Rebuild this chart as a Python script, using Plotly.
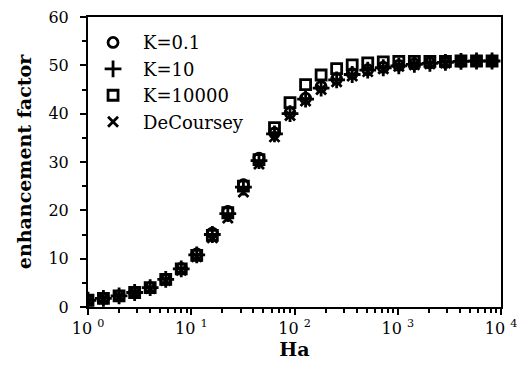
import plotly.graph_objects as go

ha = [1, 1.41, 2, 2.83, 4, 5.66, 8, 11.3, 16, 22.6, 32, 45.3, 64, 90.5, 128, 181,
      256, 362, 512, 724, 1024, 1448, 2048, 2896, 4096, 5793, 8192]
k01 = [1.4, 1.8, 2.3, 3.0, 4.0, 5.7, 8.0, 11.0, 15.3, 19.8, 25.3, 30.8, 36.0, 40.2,
       43.2, 45.6, 47.2, 48.3, 49.1, 49.6, 50.0, 50.3, 50.5, 50.6, 50.8, 50.9, 50.9]
k10 = [1.4, 1.8, 2.3, 3.0, 4.0, 5.7, 7.9, 10.8, 15.0, 19.3, 24.8, 30.3, 35.8, 40.0,
       43.0, 45.3, 47.0, 48.1, 49.0, 49.5, 49.9, 50.2, 50.4, 50.6, 50.8, 50.9, 50.9]
k10000 = [1.4, 1.8, 2.3, 3.0, 4.0, 5.7, 7.9, 10.7, 14.8, 19.5, 25.0, 30.5, 37.1, 42.3,
          46.0, 48.0, 49.3, 50.1, 50.5, 50.7, 50.8, 50.8, 50.8, 50.8, 50.9, 50.9, 50.9]
decoursey = [1.3, 1.7, 2.2, 2.9, 3.8, 5.5, 7.6, 10.4, 14.3, 18.4, 23.8, 29.6, 35.2, 39.6,
             42.6, 45.0, 46.6, 47.8, 48.7, 49.3, 49.8, 50.1, 50.3, 50.5, 50.8, 50.9, 50.9]

x_tickvals = [1, 10, 100, 1000, 10000]
x_ticktext = ["10 <sup>0</sup>", "10 <sup>1</sup>", "10 <sup>2</sup>", "10 <sup>3</sup>", "10 <sup>4</sup>"]

font_family = "DejaVu Serif, Liberation Serif, serif"

fig = go.Figure()
series = [
    ("K=0.1", k01, "circle-open", 10),
    ("K=10", k10, "cross-thin-open", 12),
    ("K=10000", k10000, "square-open", 10),
    ("DeCoursey", decoursey, "x-thin-open", 10),
]
for name, ys, sym, sz in series:
    fig.add_trace(go.Scatter(
        x=ha, y=ys, mode="markers", name=name,
        marker=dict(symbol=sym, size=sz, color="black",
                    line=dict(color="black", width=2.8)),
    ))

minor_vals = [m * 10 ** d for d in range(4) for m in range(2, 10)]

fig.update_layout(
    width=530, height=365,
    margin=dict(l=88, r=29, t=17, b=58, autoexpand=False),
    paper_bgcolor="white", plot_bgcolor="white",
    font=dict(family=font_family, size=17, color="black"),
    showlegend=True,
    legend=dict(x=-0.012, y=0.975, xanchor="left", yanchor="top",
                bgcolor="rgba(0,0,0,0)", font=dict(size=18, family=font_family),
                itemsizing="trace", itemwidth=50),
)
fig.update_xaxes(
    type="log", range=[0, 4], automargin=False,
    tickvals=x_tickvals, ticktext=x_ticktext,
    ticks="outside", ticklen=6, tickwidth=2, tickcolor="black",
    minor=dict(tickvals=minor_vals, ticks="outside", ticklen=4, tickwidth=1.5,
               tickcolor="black", showgrid=False),
    showline=True, linecolor="black", linewidth=2, mirror=True,
    showgrid=False, zeroline=False,
    title=dict(text="<b>Ha</b>", standoff=0, font=dict(size=19)),
    tickfont=dict(size=16),
)
fig.update_yaxes(
    range=[0, 60], tickvals=[0, 10, 20, 30, 40, 50, 60], automargin=False,
    ticks="outside", ticklen=6, tickwidth=2, tickcolor="black",
    ticklabelstandoff=8,
    minor=dict(dtick=5, ticks="outside", ticklen=4, tickwidth=1.5,
               tickcolor="black", showgrid=False),
    showline=True, linecolor="black", linewidth=2, mirror=True,
    showgrid=False, zeroline=False,
    title=dict(text="<b>enhancement factor</b>", standoff=12, font=dict(size=19)),
    tickfont=dict(size=16),
)

fig.write_html(
    "out.html",
    config={"displayModeBar": False},
    post_script="document.body.style.margin='0';document.body.style.overflow='hidden';",
)
